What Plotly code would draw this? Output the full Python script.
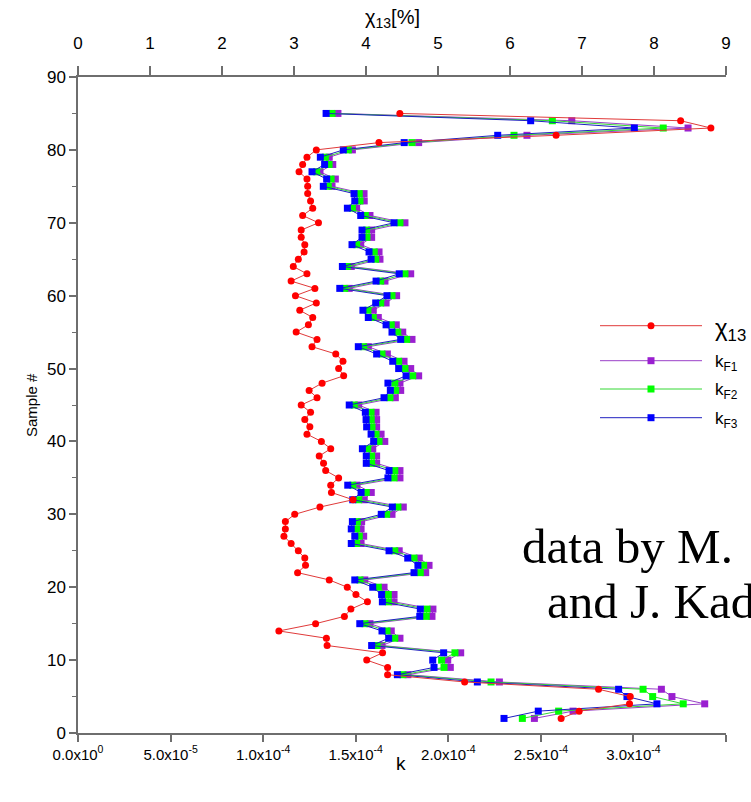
import plotly.graph_objects as go

# ---------------- data ----------------
samples = list(range(2, 86))

chi13 = [6.71, 6.96, 7.66, 7.67, 7.23, 5.37, 4.30, 4.30, 4.01, 4.23,
         3.46, 3.45, 2.79, 3.30, 3.70, 3.79, 4.02, 3.86, 3.74, 3.49,
         3.05, 3.16, 3.15, 3.06, 2.96, 2.86, 2.88, 2.88, 3.01, 3.36,
         3.82, 3.52, 3.51, 3.62, 3.44, 3.41, 3.35, 3.51, 3.38, 3.18,
         3.22, 3.15, 3.23, 3.10, 3.32, 3.21, 3.39, 3.69, 3.62, 3.68,
         3.58, 3.25, 3.32, 3.03, 3.20, 3.26, 3.08, 3.31, 3.02, 3.29,
         2.96, 3.18, 2.99, 3.06, 3.14, 3.15, 3.10, 3.10, 3.34, 3.12,
         3.26, 3.23, 3.19, 3.19, 3.18, 3.07, 3.12, 3.18, 3.31, 4.18,
         6.64, 8.79, 8.37, 4.47]

# k values in units of 1e-4
kF1 = [2.465, 2.674, 3.385, 3.208, 3.151, 2.276, 1.782, 2.011, 1.997, 2.067,
       1.642, 1.739, 1.692, 1.577, 1.912, 1.917, 1.707, 1.707, 1.653, 1.549,
       1.878, 1.896, 1.843, 1.735, 1.529, 1.543, 1.529, 1.532, 1.696, 1.757,
       1.546, 1.584, 1.507, 1.739, 1.739, 1.613, 1.613, 1.592, 1.657, 1.637,
       1.613, 1.613, 1.610, 1.516, 1.714, 1.743, 1.739, 1.840, 1.797, 1.761,
       1.671, 1.568, 1.804, 1.754, 1.719, 1.622, 1.595, 1.664, 1.721, 1.465,
       1.658, 1.797, 1.476, 1.631, 1.626, 1.527, 1.586, 1.586, 1.766, 1.577,
       1.505, 1.546, 1.545, 1.372, 1.390, 1.307, 1.376, 1.357, 1.482, 1.840,
       2.425, 3.295, 2.667, 1.404]

kF2 = [2.400, 2.596, 3.269, 3.104, 3.052, 2.231, 1.755, 1.977, 1.964, 2.036,
       1.615, 1.711, 1.669, 1.550, 1.881, 1.885, 1.676, 1.676, 1.622, 1.523,
       1.849, 1.867, 1.815, 1.711, 1.505, 1.519, 1.505, 1.509, 1.667, 1.728,
       1.516, 1.557, 1.484, 1.707, 1.711, 1.586, 1.586, 1.565, 1.626, 1.610,
       1.588, 1.584, 1.583, 1.492, 1.685, 1.716, 1.711, 1.808, 1.766, 1.732,
       1.642, 1.543, 1.775, 1.727, 1.692, 1.595, 1.566, 1.635, 1.696, 1.441,
       1.635, 1.766, 1.455, 1.608, 1.600, 1.505, 1.561, 1.559, 1.739, 1.552,
       1.482, 1.523, 1.519, 1.352, 1.367, 1.289, 1.356, 1.336, 1.460, 1.804,
       2.355, 3.161, 2.562, 1.372]

kF3 = [2.301, 2.486, 3.127, 2.965, 2.920, 2.157, 1.725, 1.923, 1.916, 1.975,
       1.586, 1.678, 1.642, 1.522, 1.846, 1.849, 1.644, 1.640, 1.592, 1.495,
       1.815, 1.836, 1.781, 1.680, 1.476, 1.495, 1.476, 1.482, 1.638, 1.698,
       1.484, 1.529, 1.457, 1.674, 1.680, 1.557, 1.557, 1.536, 1.597, 1.583,
       1.559, 1.556, 1.552, 1.465, 1.653, 1.687, 1.674, 1.772, 1.732, 1.700,
       1.613, 1.514, 1.743, 1.696, 1.664, 1.568, 1.539, 1.608, 1.669, 1.414,
       1.610, 1.735, 1.428, 1.583, 1.572, 1.480, 1.534, 1.534, 1.707, 1.527,
       1.455, 1.495, 1.491, 1.325, 1.343, 1.264, 1.332, 1.309, 1.433, 1.762,
       2.267, 3.005, 2.445, 1.340]

K_UNIT = 1e-4

k_tickvals = [0, 0.5e-4, 1.0e-4, 1.5e-4, 2.0e-4, 2.5e-4, 3.0e-4, 3.5e-4]
k_ticktext = ["0.0x10<sup>0</sup>", "5.0x10<sup>-5</sup>", "1.0x10<sup>-4</sup>",
              "1.5x10<sup>-4</sup>", "2.0x10<sup>-4</sup>", "2.5x10<sup>-4</sup>",
              "3.0x10<sup>-4</sup>", "3.5x10<sup>-4</sup>"]
chi_tickvals = list(range(0, 10))

legend_labels = ["χ<sub>13</sub>", "k<sub>F1</sub>", "k<sub>F2</sub>", "k<sub>F3</sub>"]

# ---------------- styling ----------------
W, H = 751, 802
PL, PR, PT, PB = 78, 726, 77, 733
SANS = "Liberation Sans Narrow, Arial Narrow, Liberation Sans, Arial, sans-serif"
SERIF = "Liberation Serif, Times New Roman, serif"
AX = "#6e6e6e"

RED_M, RED_L = "#ff0000", "#e03a3a"
PUR_M, PUR_L = "#9a1fd0", "#9a40c8"
GRN_M, GRN_L = "#00ff00", "#35d835"
BLU_M, BLU_L = "#0000ff", "#2020c0"


def px_x(px):
    return (px - PL) / (PR - PL)


def px_y(py):
    return (PB - py) / (PB - PT)


fig = go.Figure()

k_series = [(kF1, PUR_M, PUR_L, legend_labels[1]),
            (kF2, GRN_M, GRN_L, legend_labels[2]),
            (kF3, BLU_M, BLU_L, legend_labels[3])]
for vals, mc, lc, name in k_series:
    fig.add_trace(go.Scatter(
        x=[v * K_UNIT for v in vals], y=samples, mode="lines+markers",
        name=name, xaxis="x", yaxis="y",
        line=dict(color=lc, width=1),
        marker=dict(symbol="square", size=7, color=mc, line=dict(width=0)),
        showlegend=False))

fig.add_trace(go.Scatter(
    x=chi13, y=samples, mode="lines+markers", name=legend_labels[0],
    xaxis="x2", yaxis="y",
    line=dict(color=RED_L, width=1),
    marker=dict(symbol="circle", size=7, color=RED_M, line=dict(width=0)),
    showlegend=False))

# ---------------- manual legend ----------------
shapes = []
annotations = []
leg_rows = [(325.7, RED_M, RED_L, "circle", legend_labels[0]),
            (360.7, PUR_M, PUR_L, "square", legend_labels[1]),
            (389.0, GRN_M, GRN_L, "square", legend_labels[2]),
            (417.7, BLU_M, BLU_L, "square", legend_labels[3])]
for py, mc, lc, sym, lab in leg_rows:
    shapes.append(dict(type="line", xref="paper", yref="paper",
                       x0=px_x(600), x1=px_x(702), y0=px_y(py), y1=px_y(py),
                       line=dict(color=lc, width=1)))
    r = 3.5
    shapes.append(dict(type="circle" if sym == "circle" else "rect",
                       xref="paper", yref="paper",
                       x0=px_x(651 - r), x1=px_x(651 + r),
                       y0=px_y(py + r), y1=px_y(py - r),
                       fillcolor=mc, line=dict(width=0)))
    if lab.startswith("χ"):
        fsize = 24
        yoff = 4
    else:
        fsize = 17
        yoff = 2
    annotations.append(dict(xref="paper", yref="paper", x=px_x(713), y=px_y(py + yoff),
                            xanchor="left", yanchor="middle", showarrow=False,
                            text=lab, font=dict(family=SANS, size=fsize, color="black")))

# axis titles
annotations.append(dict(xref="paper", yref="paper", x=px_x(392), y=px_y(18),
                        xanchor="center", yanchor="middle", showarrow=False,
                        text="χ<sub>13</sub>[%]",
                        font=dict(family=SANS, size=20, color="black")))
annotations.append(dict(xref="paper", yref="paper", x=px_x(401), y=px_y(763),
                        xanchor="center", yanchor="middle", showarrow=False,
                        text="k", font=dict(family=SANS, size=19, color="black")))
annotations.append(dict(xref="paper", yref="paper", x=px_x(31), y=px_y(405),
                        xanchor="center", yanchor="middle", showarrow=False, textangle=-90,
                        text="Sample #", font=dict(family=SANS, size=15, color="black")))

# side text (cut off at right edge, as in the source)
annotations.append(dict(xref="paper", yref="paper", x=px_x(520), y=px_y(546),
                        xanchor="left", yanchor="middle", showarrow=False,
                        text="data by M.", font=dict(family=SERIF, size=49, color="black")))
annotations.append(dict(xref="paper", yref="paper", x=px_x(545), y=px_y(601),
                        xanchor="left", yanchor="middle", showarrow=False,
                        text="and J. Kad", font=dict(family=SERIF, size=49, color="black")))

fig.update_layout(
    width=W, height=H,
    margin=dict(l=PL, r=W - PR, t=PT, b=H - PB),
    paper_bgcolor="white", plot_bgcolor="white",
    font=dict(family=SANS, size=15, color="black"),
    showlegend=False,
    xaxis=dict(range=[0, 3.5e-4], tickvals=k_tickvals, ticktext=k_ticktext,
               showgrid=False, zeroline=False, showline=True, linecolor=AX, linewidth=1.5,
               ticks="outside", ticklen=7, tickcolor=AX, tickwidth=1.5,
               tickfont=dict(family=SANS, size=15)),
    xaxis2=dict(range=[0, 9], tickvals=chi_tickvals, overlaying="x", side="top",
                anchor="y", showgrid=False, zeroline=False, showline=True,
                linecolor=AX, linewidth=1.5,
                ticks="outside", ticklen=9, tickcolor=AX, tickwidth=1.5,
                ticklabelstandoff=10,
                tickfont=dict(family=SANS, size=17)),
    yaxis=dict(range=[0, 90], dtick=10, showgrid=False, zeroline=False,
               showline=True, linecolor=AX, linewidth=1.5,
               ticks="outside", ticklen=7, tickcolor=AX, tickwidth=1.5,
               minor=dict(ticks="outside", ticklen=4, dtick=5, tickcolor=AX, tickwidth=1),
               tickfont=dict(family=SANS, size=17)),
    shapes=shapes,
    annotations=annotations,
)

fig.write_html("out.html")
